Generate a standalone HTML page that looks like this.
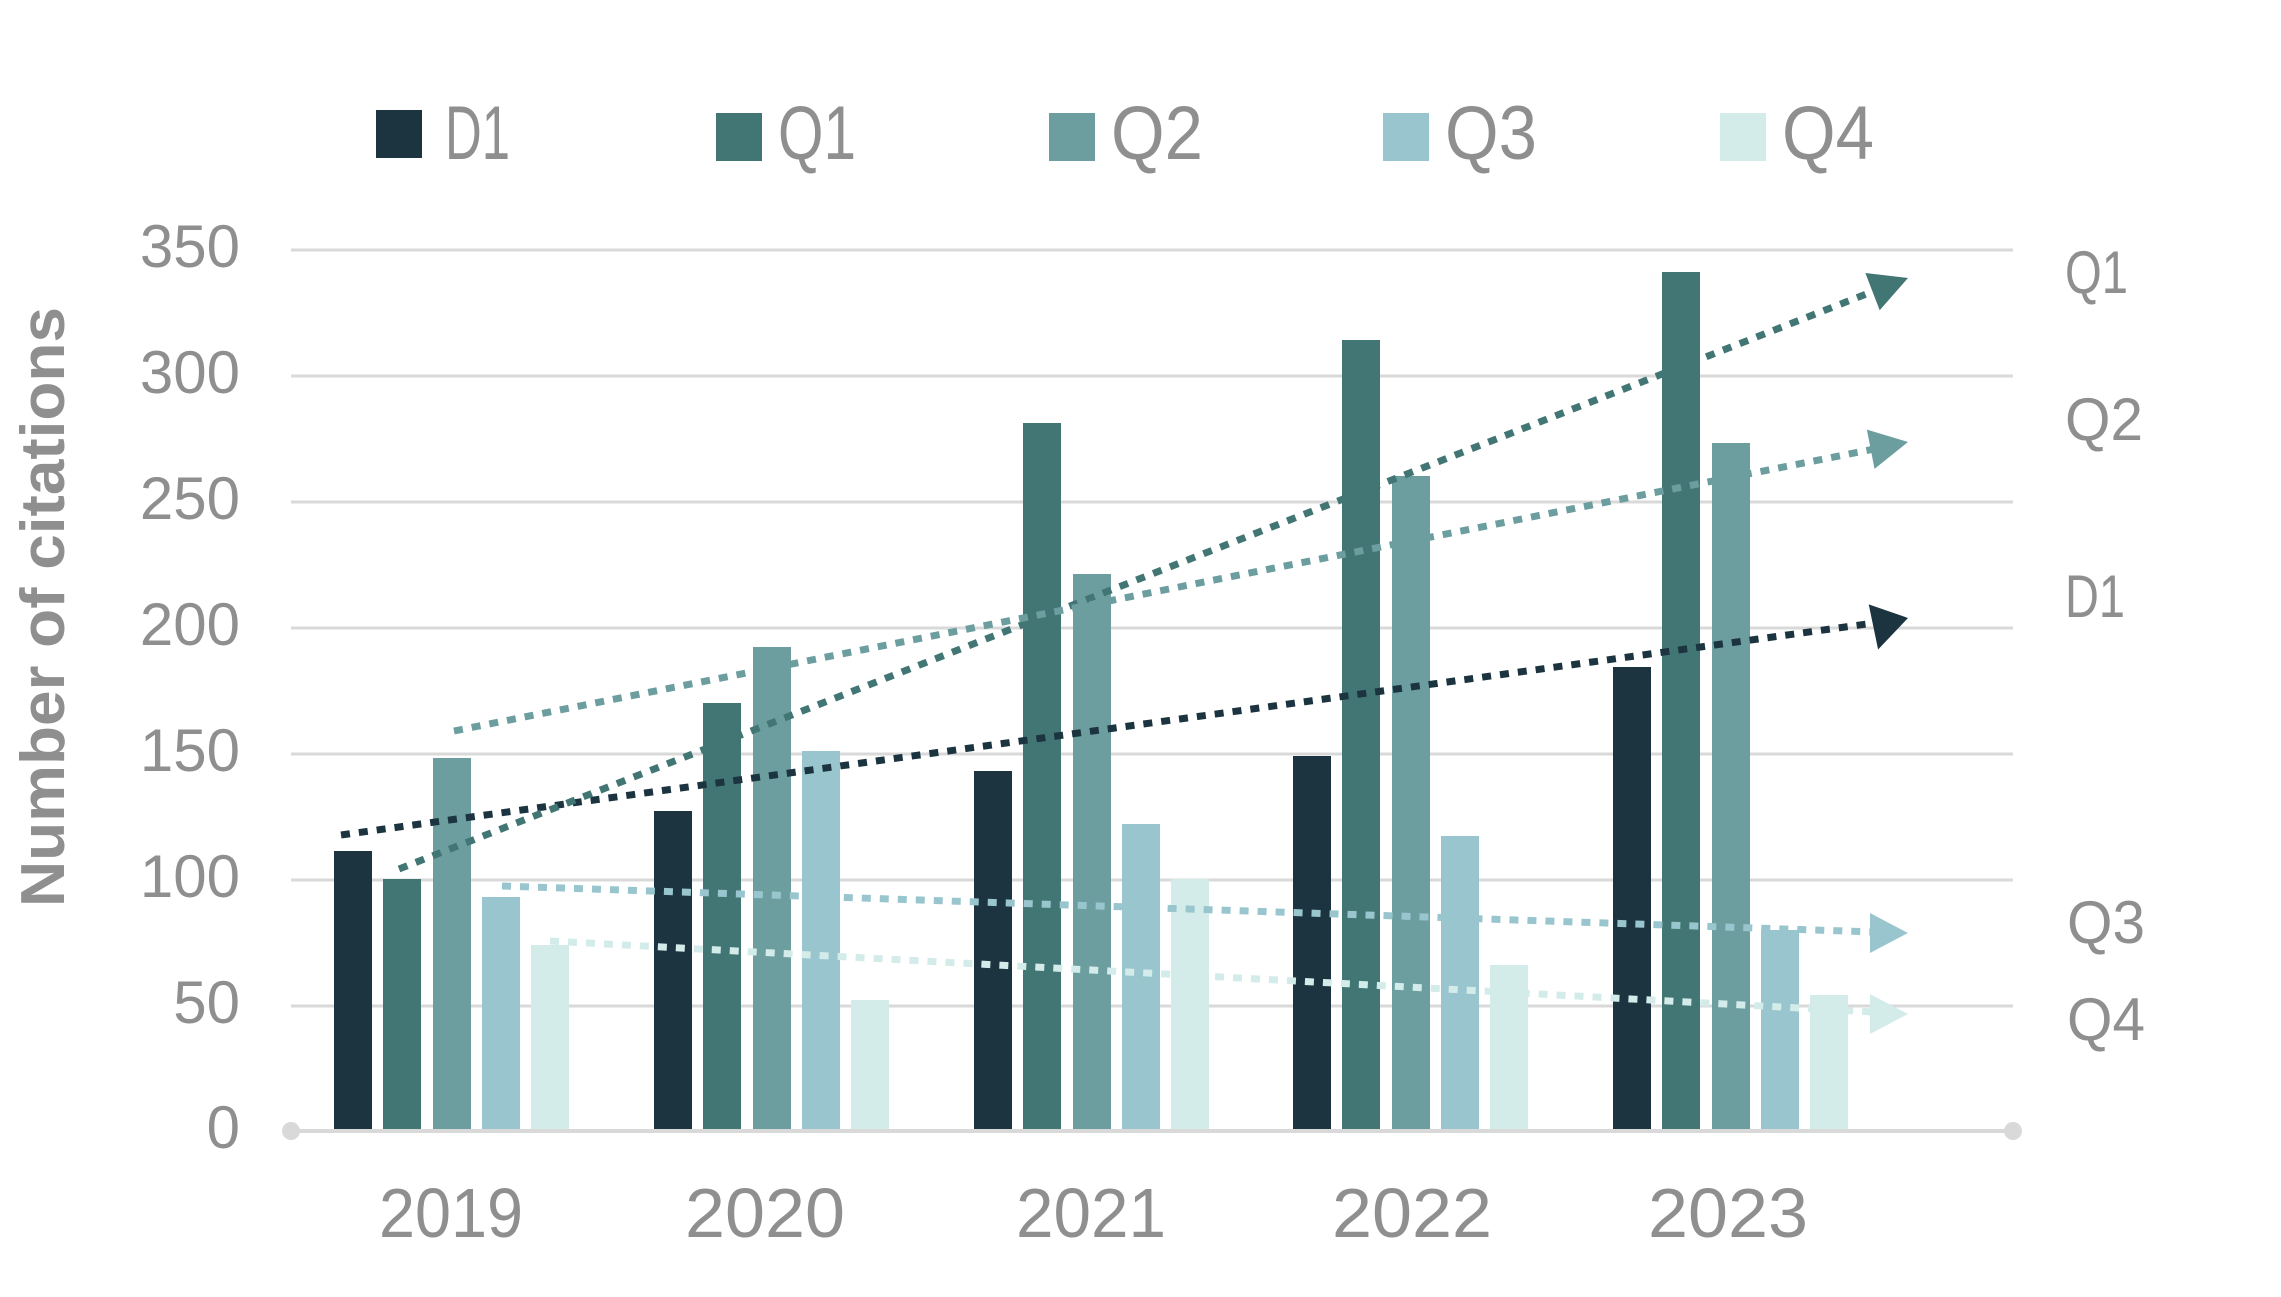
<!DOCTYPE html>
<html><head><meta charset="utf-8"><style>html,body{margin:0;padding:0;background:#fff}svg{display:block}</style></head>
<body>
<svg width="2281" height="1297" viewBox="0 0 2281 1297" xmlns="http://www.w3.org/2000/svg" font-family="Liberation Sans, sans-serif">
<g stroke="#d9d9d9" stroke-width="3">
<line x1="291" y1="1006" x2="2013" y2="1006"/>
<line x1="291" y1="880" x2="2013" y2="880"/>
<line x1="291" y1="754" x2="2013" y2="754"/>
<line x1="291" y1="628" x2="2013" y2="628"/>
<line x1="291" y1="502" x2="2013" y2="502"/>
<line x1="291" y1="376" x2="2013" y2="376"/>
<line x1="291" y1="250" x2="2013" y2="250"/>
</g>
<g font-size="60" fill="#8f8f8f" text-anchor="end">
<text x="240" y="1148">0</text>
<text x="240" y="1023">50</text>
<text x="240" y="897">100</text>
<text x="240" y="771">150</text>
<text x="240" y="645">200</text>
<text x="240" y="519">250</text>
<text x="240" y="393">300</text>
<text x="240" y="267">350</text>
</g>
<g id="bars">
<rect x="334" y="851" width="38" height="280" fill="#1c3440"/>
<rect x="383" y="879" width="38" height="252" fill="#427674"/>
<rect x="433" y="758" width="38" height="373" fill="#6c9ea0"/>
<rect x="482" y="897" width="38" height="234" fill="#99c6ce"/>
<rect x="531" y="945" width="38" height="186" fill="#d3ecea"/>
<rect x="654" y="811" width="38" height="320" fill="#1c3440"/>
<rect x="703" y="703" width="38" height="428" fill="#427674"/>
<rect x="753" y="647" width="38" height="484" fill="#6c9ea0"/>
<rect x="802" y="751" width="38" height="380" fill="#99c6ce"/>
<rect x="851" y="1000" width="38" height="131" fill="#d3ecea"/>
<rect x="974" y="771" width="38" height="360" fill="#1c3440"/>
<rect x="1023" y="423" width="38" height="708" fill="#427674"/>
<rect x="1073" y="574" width="38" height="557" fill="#6c9ea0"/>
<rect x="1122" y="824" width="38" height="307" fill="#99c6ce"/>
<rect x="1171" y="879" width="38" height="252" fill="#d3ecea"/>
<rect x="1293" y="756" width="38" height="375" fill="#1c3440"/>
<rect x="1342" y="340" width="38" height="791" fill="#427674"/>
<rect x="1392" y="476" width="38" height="655" fill="#6c9ea0"/>
<rect x="1441" y="836" width="38" height="295" fill="#99c6ce"/>
<rect x="1490" y="965" width="38" height="166" fill="#d3ecea"/>
<rect x="1613" y="667" width="38" height="464" fill="#1c3440"/>
<rect x="1662" y="272" width="38" height="859" fill="#427674"/>
<rect x="1712" y="443" width="38" height="688" fill="#6c9ea0"/>
<rect x="1761" y="930" width="38" height="201" fill="#99c6ce"/>
<rect x="1810" y="995" width="38" height="136" fill="#d3ecea"/>
</g>
<line x1="291" y1="1131" x2="2013" y2="1131" stroke="#d9d9d9" stroke-width="4"/>
<circle cx="291" cy="1131" r="9" fill="#d9d9d9"/>
<circle cx="2013" cy="1131" r="9" fill="#d9d9d9"/>
<g stroke-width="7" stroke-dasharray="9 9" fill="none">
<line x1="341" y1="835" x2="1874" y2="623" stroke="#1c3440"/>
<line x1="399" y1="869" x2="1874" y2="291" stroke="#427674"/>
<line x1="454" y1="731" x2="1874" y2="449" stroke="#6c9ea0"/>
<line x1="502" y1="886" x2="1874" y2="932" stroke="#99c6ce"/>
<line x1="550" y1="941" x2="1874" y2="1012" stroke="#d3ecea"/>
</g>
<polygon points="1908,618 1871,599 1874,645" fill="#1c3440" transform="rotate(-8 1908 618)"/>
<polygon points="1908,278 1870,258 1870,298" fill="#427674" transform="rotate(-21 1908 278)"/>
<polygon points="1908,442 1870,422 1870,462" fill="#6c9ea0" transform="rotate(-11 1908 442)"/>
<polygon points="1908,933 1870,913 1870,953" fill="#99c6ce"/>
<polygon points="1908,1014 1870,994 1870,1034" fill="#d3ecea"/>
<g font-size="60" fill="#8f8f8f">
<text x="2065" y="293" textLength="63" lengthAdjust="spacingAndGlyphs">Q1</text>
<text x="2065" y="440" textLength="78" lengthAdjust="spacingAndGlyphs">Q2</text>
<text x="2065" y="617" textLength="60" lengthAdjust="spacingAndGlyphs">D1</text>
<text x="2067" y="943" textLength="78" lengthAdjust="spacingAndGlyphs">Q3</text>
<text x="2067" y="1040" textLength="78" lengthAdjust="spacingAndGlyphs">Q4</text>
</g>
<g font-size="70" fill="#8f8f8f" text-anchor="middle">
<text x="451" y="1237" textLength="144" lengthAdjust="spacingAndGlyphs">2019</text>
<text x="765" y="1237" textLength="160" lengthAdjust="spacingAndGlyphs">2020</text>
<text x="1091" y="1237" textLength="150" lengthAdjust="spacingAndGlyphs">2021</text>
<text x="1412" y="1237" textLength="160" lengthAdjust="spacingAndGlyphs">2022</text>
<text x="1728" y="1237" textLength="160" lengthAdjust="spacingAndGlyphs">2023</text>
</g>
<rect x="376" y="110" width="46" height="48" fill="#1c3440"/>
<rect x="716" y="113" width="46" height="48" fill="#427674"/>
<rect x="1049" y="113" width="46" height="48" fill="#6c9ea0"/>
<rect x="1383" y="113" width="46" height="48" fill="#99c6ce"/>
<rect x="1720" y="113" width="46" height="48" fill="#d3ecea"/>
<g font-size="76" fill="#8f8f8f">
<text x="445" y="159" textLength="65" lengthAdjust="spacingAndGlyphs">D1</text>
<text x="778" y="159" textLength="78" lengthAdjust="spacingAndGlyphs">Q1</text>
<text x="1111" y="159" textLength="92" lengthAdjust="spacingAndGlyphs">Q2</text>
<text x="1445" y="159" textLength="92" lengthAdjust="spacingAndGlyphs">Q3</text>
<text x="1782" y="159" textLength="92" lengthAdjust="spacingAndGlyphs">Q4</text>
</g>
<text transform="translate(64,607) rotate(-90)" text-anchor="middle" font-size="62" font-weight="bold" fill="#8f8f8f" textLength="600" lengthAdjust="spacingAndGlyphs">Number of citations</text>
</svg>
</body></html>
